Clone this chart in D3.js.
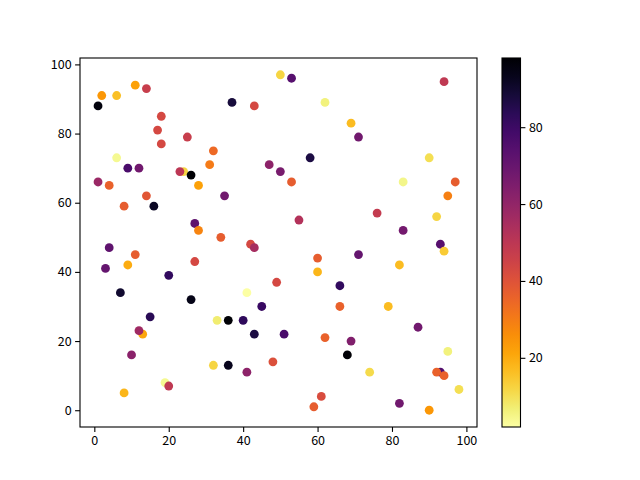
<!DOCTYPE html>
<html><head><meta charset="utf-8">
<script src="https://cdn.jsdelivr.net/npm/d3@7"></script>
<style>body{margin:0;background:#fff}svg{display:block}text{font-family:"Noto Sans CJK SC","Noto Sans",sans-serif;font-size:12.5px;fill:#000}</style>
</head><body><svg id="c" width="640" height="480"></svg>
<script>
// x positions, y positions, colour values (drawing order)
const xs = [2,6,11,14,1,18,17,18,25,6,9,12,32,31,24,23,26,28,1,4,14,8,16,27,28,
  50,53,37,43,62,47,50,53,58,35,55,34,42,43,
  94,69,71,90,83,97,95,76,92,83,93,94,71,82,66,66,79,87,69,68,95,74,93,92,94,98,82,90,
  60,60,49,41,45,33,36,40,43,51,62,32,36,41,48,61,59,
  4,11,3,9,27,20,7,26,15,13,12,10,19,20,8];
const ys = [91,91,94,93,88,85,81,77,79,73,70,70,75,71,69,69,68,65,66,65,62,59,59,54,52,
  97,96,89,88,89,71,69,66,73,62,55,50,48,47,
  95,83,79,73,66,66,62,57,56,52,48,46,45,42,36,30,30,24,20,16,17,11,11,11,10,6,2,0,
  44,40,37,34,30,26,26,26,22,22,21,13,13,11,14,4,1,
  47,45,41,42,43,39,34,32,27,22,23,16,8,7,5];
const cs = [24,16,22,47,96,43,43,43,47,4,77,68,34,30,12,50,98,22,58,36,39,37,92,72,28,
  12,74,88,43,6,61,66,37,87,68,52,37,43,55,
  49,17,68,10,5,37,29,48,12,67,74,14,71,17,82,36,17,68,64,97,6,11,75,36,36,10,68,24,
  37,18,43,2,81,7,97,83,87,77,36,12,93,61,41,42,37,
  72,37,71,20,43,82,90,94,84,21,57,62,4,49,18];
const xTicks = [0,20,40,60,80,100];
const yTicks = [0,20,40,60,80,100];
const cTicks = [20,40,60,80];

const svg = d3.select("#c");
const L=80,R=477,T=58,B=427;
function padded(a){const e=d3.extent(a),r=e[1]-e[0];return [e[0]-0.05*r,e[1]+0.05*r];}
const x = d3.scaleLinear().domain(padded(xs)).range([L,R]);
const y = d3.scaleLinear().domain(padded(ys)).range([B,T]);
const cExt = d3.extent(cs);
const col = v => d3.interpolateInferno(1-(v-cExt[0])/(cExt[1]-cExt[0]));

const pts = xs.map((d,i)=>({x:d,y:ys[i],c:cs[i]}));
svg.append("g").selectAll("circle").data(pts).join("circle")
  .attr("cx",d=>x(d.x)).attr("cy",d=>y(d.y)).attr("r",4.4).attr("fill",d=>col(d.c));

function styleAxis(g){
  g.select(".domain").remove();
  g.selectAll("line").attr("stroke","#000").attr("stroke-width",1.1);
  g.selectAll("text").attr("font-size",12.5).attr("font-family","Noto Sans CJK SC, Noto Sans, sans-serif");
}
const ax = svg.append("g").attr("transform",`translate(0,${B})`)
  .call(d3.axisBottom(x).tickValues(xTicks).tickSize(4.9).tickPadding(4).tickFormat(d3.format("d")));
const ay = svg.append("g").attr("transform",`translate(${L},0)`)
  .call(d3.axisLeft(y).tickValues(yTicks).tickSize(4.9).tickPadding(3.5).tickFormat(d3.format("d")));
styleAxis(ax); styleAxis(ay);
svg.append("rect").attr("x",L).attr("y",T).attr("width",R-L).attr("height",B-T)
  .attr("fill","none").attr("stroke","#000").attr("stroke-width",1.1);

// colorbar
const cbL=502,cbW=18.5;
const cy = d3.scaleLinear().domain(cExt).range([B,T]);
const defs = svg.append("defs");
const grad = defs.append("linearGradient").attr("id","g").attr("x1",0).attr("y1",1).attr("x2",0).attr("y2",0);
d3.range(0,1.0001,0.05).forEach(t=>grad.append("stop").attr("offset",t).attr("stop-color",d3.interpolateInferno(1-t)));
svg.append("rect").attr("x",cbL).attr("y",T).attr("width",cbW).attr("height",B-T).attr("fill","url(#g)");
const ac = svg.append("g").attr("transform",`translate(${cbL+cbW},0)`)
  .call(d3.axisRight(cy).tickValues(cTicks).tickSize(4.9).tickPadding(3.5).tickFormat(d3.format("d")));
styleAxis(ac);
svg.append("rect").attr("x",cbL).attr("y",T).attr("width",cbW).attr("height",B-T)
  .attr("fill","none").attr("stroke","#000").attr("stroke-width",1.1);
</script></body></html>
